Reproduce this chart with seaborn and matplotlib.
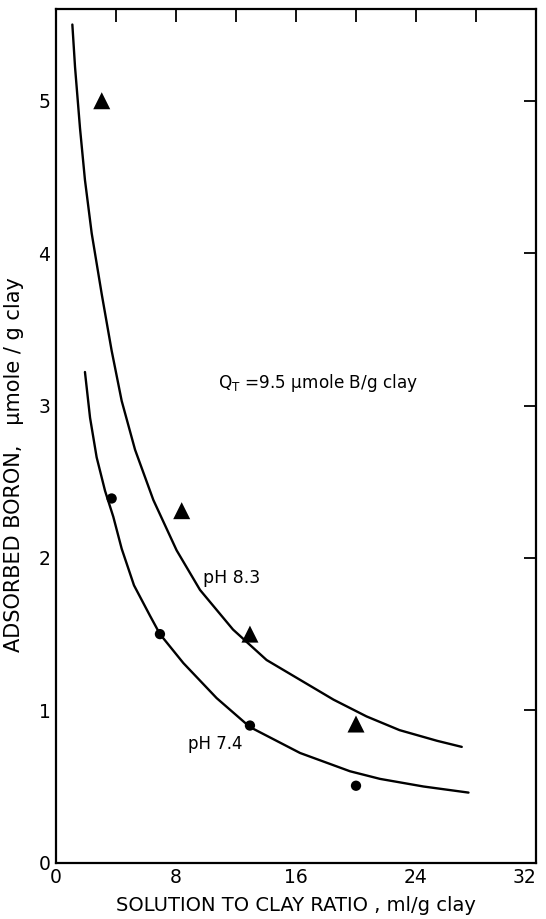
import matplotlib
matplotlib.use("Agg")
import matplotlib.pyplot as plt
import seaborn as sns
import pandas as pd
import numpy as np

# ---- data ----
curve83_x = [1.09, 1.27, 1.6, 1.93, 2.38, 3.05, 3.71, 4.38, 5.27, 6.49, 8.04, 9.6,
             11.8, 14.04, 16.27, 18.5, 20.7, 22.9, 25.4, 27.05]
curve83_y = [5.50, 5.22, 4.82, 4.48, 4.13, 3.73, 3.36, 3.03, 2.71, 2.38, 2.05, 1.79,
             1.53, 1.33, 1.20, 1.07, 0.96, 0.87, 0.80, 0.76]
curve74_x = [1.93, 2.27, 2.71, 3.27, 3.82, 4.38, 5.2, 6.27, 6.93, 8.49, 10.71, 12.93,
             16.27, 19.6, 21.6, 24.5, 27.5]
curve74_y = [3.22, 2.92, 2.66, 2.44, 2.27, 2.06, 1.82, 1.62, 1.50, 1.31, 1.08, 0.89,
             0.72, 0.60, 0.55, 0.50, 0.46]

pts83_x = [3.05, 8.38, 12.93, 20.0]
pts83_y = [5.00, 2.31, 1.50, 0.91]
pts74_x = [3.71, 6.93, 12.93, 20.0]
pts74_y = [2.39, 1.50, 0.90, 0.505]

xticks = [0, 4, 8, 12, 16, 20, 24, 28, 32]
xticklabels = ["0", "", "8", "", "16", "", "24", "", "32"]
yticks = [0, 1, 2, 3, 4, 5]
yticklabels = ["0", "1", "2", "3", "4", "5"]

curves = pd.concat([
    pd.DataFrame({"x": curve83_x, "y": curve83_y, "series": "pH 8.3"}),
    pd.DataFrame({"x": curve74_x, "y": curve74_y, "series": "pH 7.4"}),
])
points = pd.concat([
    pd.DataFrame({"x": pts83_x, "y": pts83_y, "series": "pH 8.3"}),
    pd.DataFrame({"x": pts74_x, "y": pts74_y, "series": "pH 7.4"}),
])

sns.set_theme(style="white")
plt.rcParams["font.family"] = ["DejaVu Sans"]
plt.rcParams["text.color"] = "black"
plt.rcParams["axes.labelcolor"] = "black"

fig = plt.figure(figsize=(5.46, 9.19), dpi=100)
ax = fig.add_axes([56 / 546, 1 - 862.7 / 919, 480 / 546, (862.7 - 9.3) / 919])

sns.lineplot(data=curves, x="x", y="y", hue="series", units="series", estimator=None,
             sort=False, palette={"pH 8.3": "black", "pH 7.4": "black"},
             linewidth=1.7, legend=False, ax=ax)
sns.scatterplot(data=points, x="x", y="y", style="series",
                markers={"pH 8.3": "^", "pH 7.4": "o"},
                hue="series", palette={"pH 8.3": "black", "pH 7.4": "black"},
                size="series", sizes={"pH 8.3": 150, "pH 7.4": 55},
                edgecolor="black", linewidth=0, legend=False, ax=ax)

ax.set_xlim(0, 32)
ax.set_ylim(0, 5.6)
ax.set_xticks(xticks)
ax.set_xticklabels(xticklabels)
ax.set_yticks(yticks)
ax.set_yticklabels(yticklabels)
ax.tick_params(direction="in", length=9, width=1.3, top=True, right=True,
               labelsize=13.5, colors="black", pad=4)
ax.get_xticklabels()[-1].set_horizontalalignment("right")
ax.get_xticklabels()[-1].set_x(32)
for s in ax.spines.values():
    s.set_visible(True)
    s.set_color("black")
    s.set_linewidth(1.6)

ax.set_xlabel("SOLUTION TO CLAY RATIO , ml/g clay", fontsize=14, labelpad=6)
ax.set_ylabel("ADSORBED BORON,   μmole / g clay", fontsize=15)
ax.yaxis.set_label_coords(-0.066, 0.466)

ax.text(10.8, 3.15, "Q$_\\mathregular{T}$ =9.5 μmole B/g clay", fontsize=12.2,
        va="center", ha="left")
ax.text(9.8, 1.87, "pH 8.3", fontsize=12.5, va="center", ha="left")
ax.text(8.8, 0.78, "pH 7.4", fontsize=12, va="center", ha="left")

fig.savefig("out.png", dpi=100, facecolor="white")
